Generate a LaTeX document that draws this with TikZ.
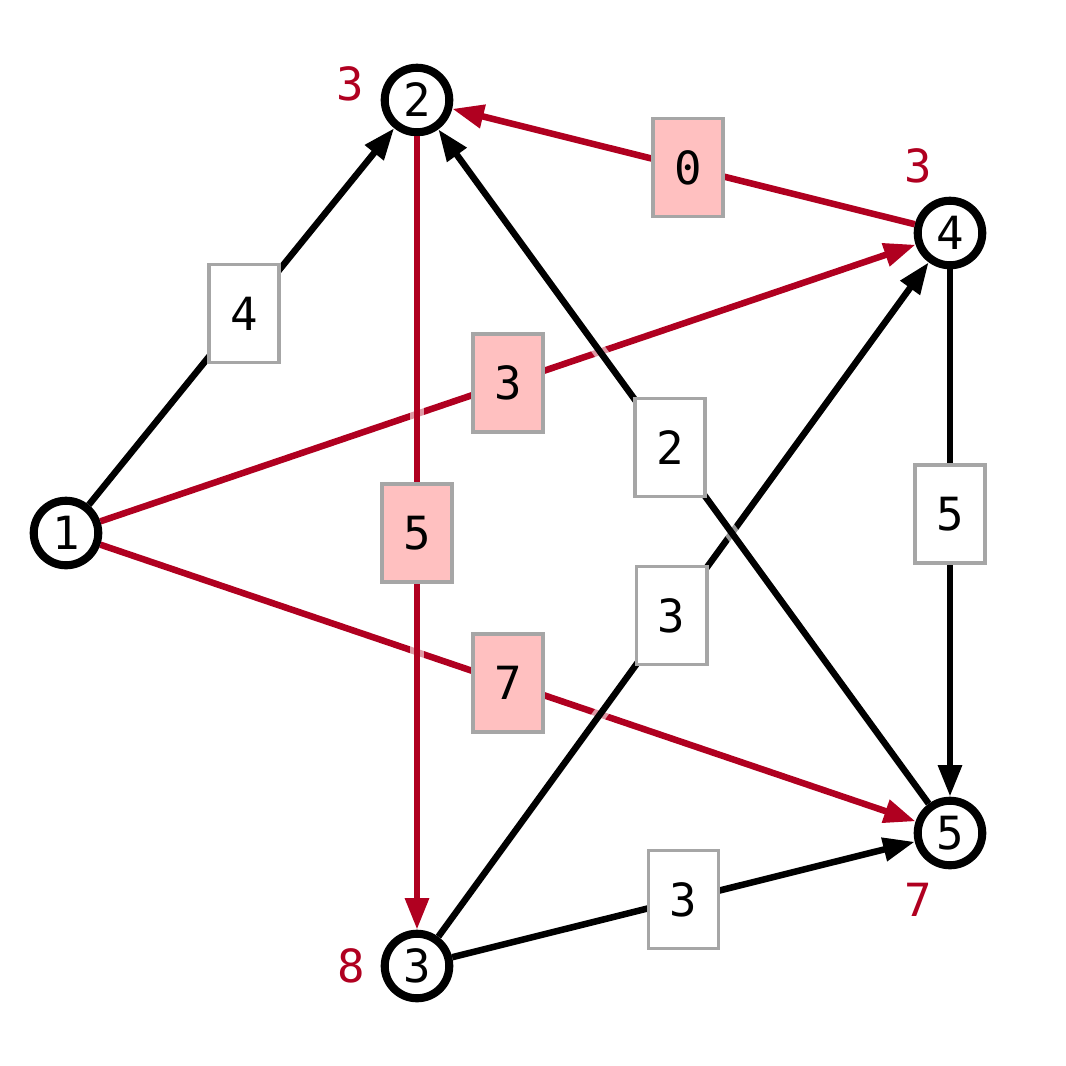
\documentclass[tikz,border=0pt]{standalone}
\usepackage{fontspec}
\setmainfont{DejaVu Sans Mono}
\usetikzlibrary{arrows.meta}
\definecolor{pathred}{RGB}{176,0,32}
\definecolor{boxpink}{RGB}{255,192,192}
\definecolor{boxgray}{RGB}{166,166,166}
\begin{document}
\begin{tikzpicture}[x=0.01cm, y=-0.01cm,
 vertex/.style={circle, draw, line width=2.3pt, fill=white, minimum size=0.645cm, inner sep=0pt, font=\fontsize{13}{15}\selectfont},
 edge/.style={line width=1.85pt, -{Triangle[length=9pt,width=6.5pt]}},
 redge/.style={edge, pathred},
 halo/.style={preaction={draw=white, line width=4pt, opacity=0.6}},
 weight/.style={draw=boxgray, line width=1pt, fill=white, text=black, minimum width=0.70cm, minimum height=0.98cm, inner sep=0pt, font=\fontsize{13}{15}\selectfont},
 rweight/.style={weight, fill=boxpink},
 dist/.style={text=pathred, font=\fontsize{13}{15}\selectfont}]
 \useasboundingbox (0,0) rectangle (1066,1066);
 % vertices
 \node[vertex] (n1) at (66,533) {1};
 \node[vertex] (n2) at (417,100) {2};
 \node[vertex] (n3) at (417,966) {3};
 \node[vertex] (n4) at (950,233) {4};
 \node[vertex] (n5) at (950,833) {5};
 % distances
 \node[dist] (d2) at (350,84) {3};
 \node[dist] (d4) at (918,166) {3};
 \node[dist] (d3) at (351,966) {8};
 \node[dist] (d5) at (918,900) {7};
 % edges
 \draw[edge] (n1) to node[weight, pos=0.508] (w12) {4} (n2);
 \draw[redge] (n4) to node[rweight, pos=0.49] (w42) {0} (n2);
 \draw[redge] (n1) to node[rweight] (w14) {3} (n4);
 \draw[redge] (n1) to node[rweight] (w15) {7} (n5);
 \draw[edge] (n3) to node[weight] (w35) {3} (n5);
 \draw[edge] (n4) to node[weight, pos=0.464] (w45) {5} (n5);
 \draw[redge, halo] (n2) to node[rweight] (w23) {5} (n3);
 \draw[edge, halo] (n3) to node[weight, pos=0.476] (w34) {3} (n4);
 \draw[edge, halo] (n5) to node[weight, pos=0.528] (w52) {2} (n2);
\end{tikzpicture}
\end{document}
